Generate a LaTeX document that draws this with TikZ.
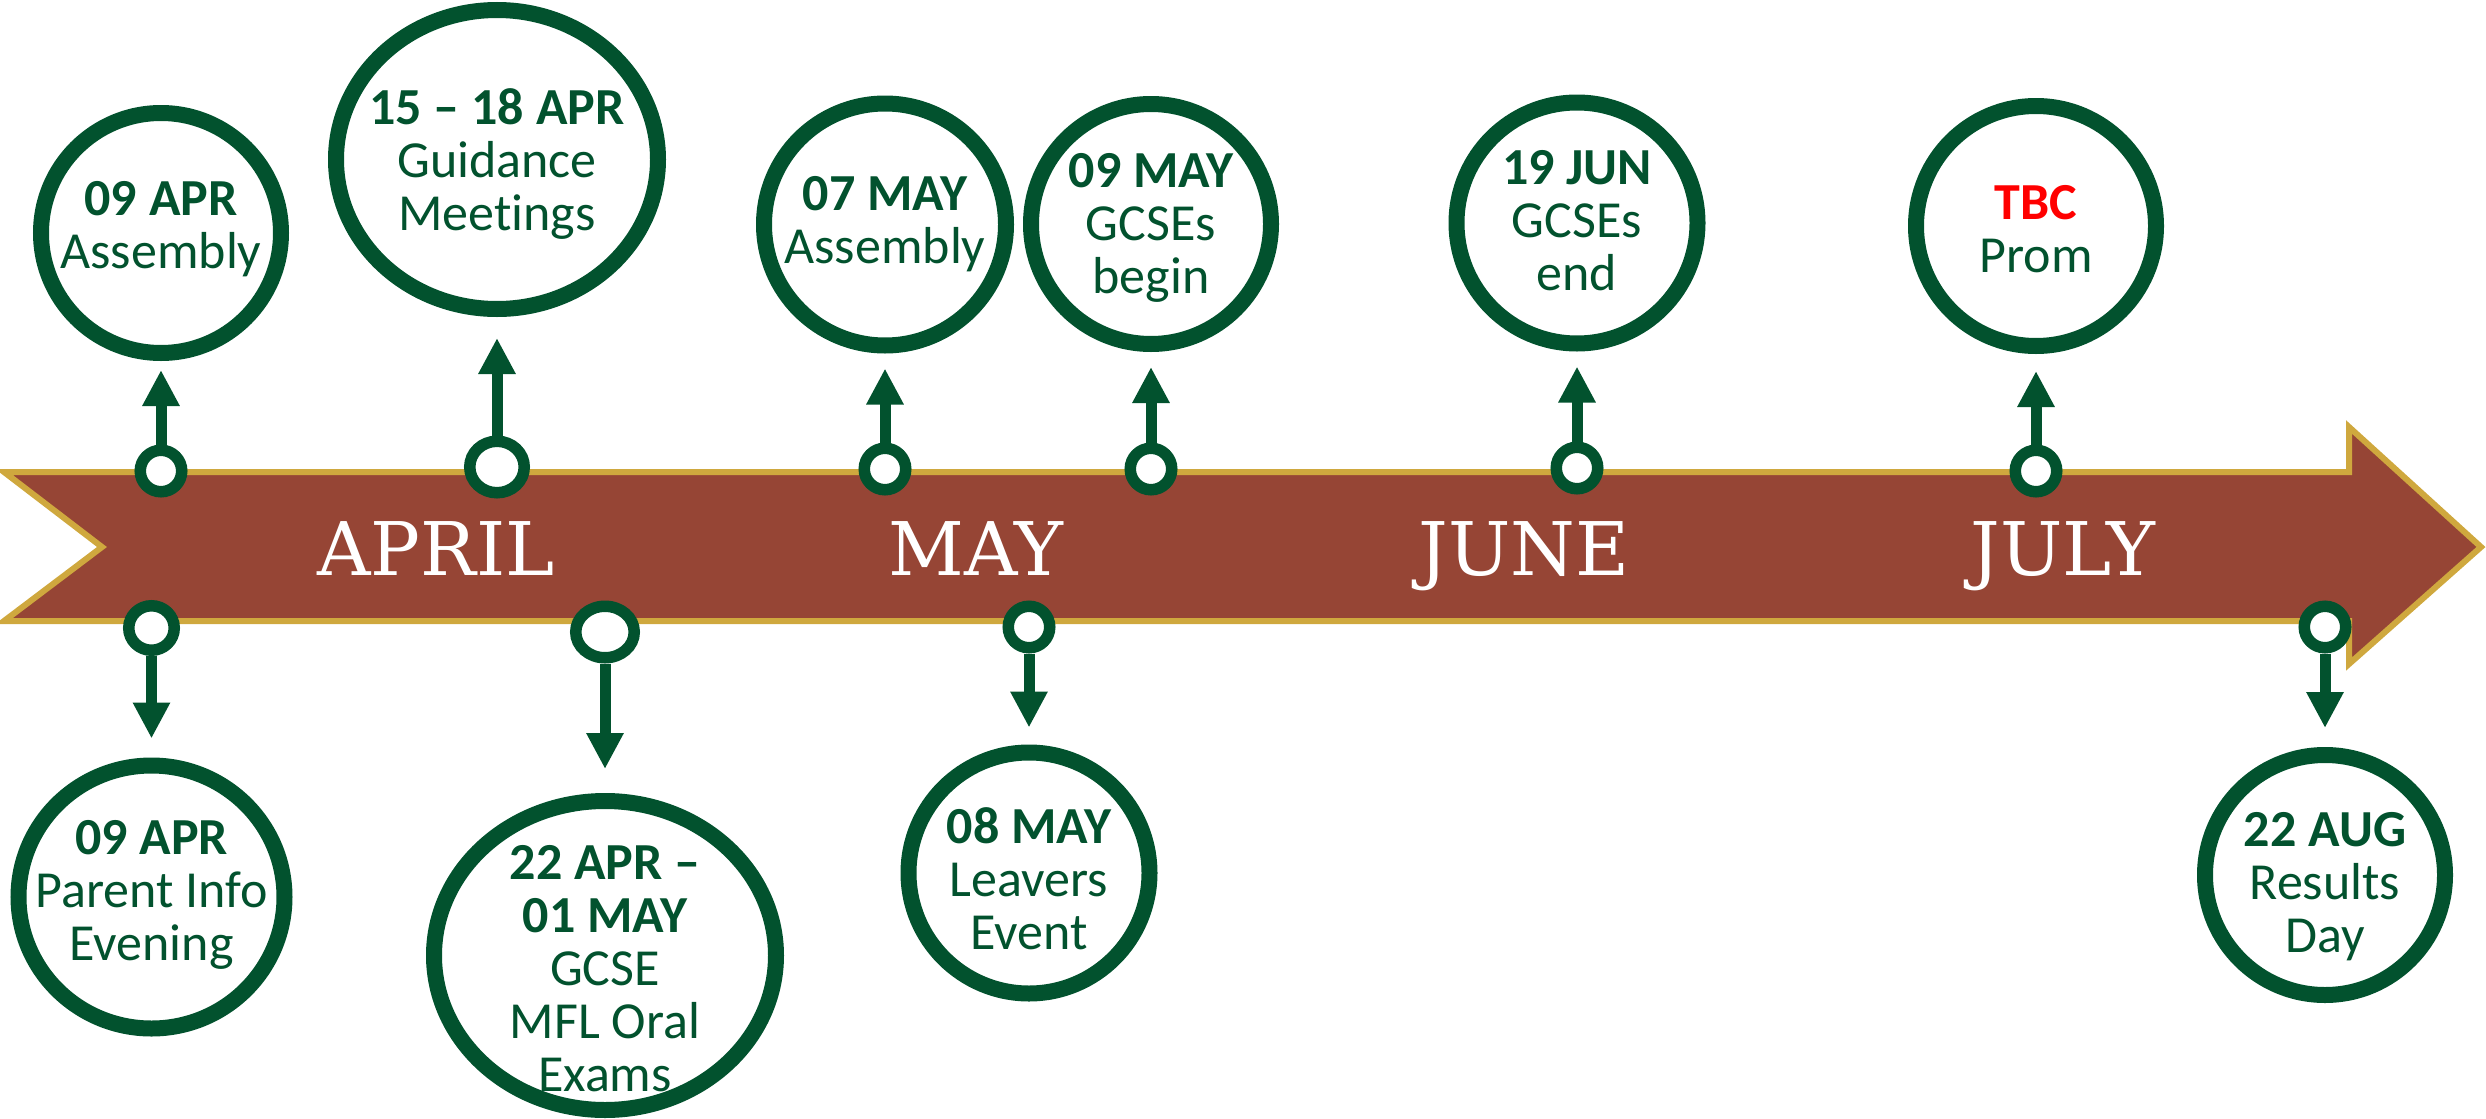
\documentclass[tikz,border=0pt]{standalone}
\usepackage{fontspec}
\usetikzlibrary{shapes.geometric,arrows.meta}
\newfontfamily\evfont[Ligatures=NoCommon]{Carlito}
\newfontfamily\monthfont{DejaVu Serif}
\definecolor{evgreen}{RGB}{2,82,46}
\definecolor{bandbrown}{RGB}{150,69,53}
\definecolor{bandgold}{RGB}{207,168,62}
\definecolor{tbcred}{RGB}{255,0,0}
\begin{document}
\begin{tikzpicture}[x=0.5pt,y=-0.5pt,
  big/.style={draw=evgreen, line width=8pt, ellipse, fill=white, inner sep=0pt},
  dot/.style={draw=evgreen, line width=5.75pt, ellipse, fill=white, inner sep=0pt,
              minimum width=20.75pt, minimum height=20.75pt},
  evtext/.style={text=evgreen, align=center, inner sep=0pt,
                 font=\evfont\fontsize{26pt}{26.5pt}\selectfont},
  month/.style={text=white, anchor=base, inner sep=0pt,
                font=\monthfont\fontsize{37pt}{37pt}\selectfont},
  conn/.style={draw=evgreen, line width=5.5pt, -{Triangle[width=17.5pt,length=18pt]}},
]
\useasboundingbox (0,0) rectangle (2486,1119);
\clip (0,0) rectangle (2486,1119);

% timeline band
\draw[fill=bandbrown, draw=bandgold, line width=3pt, line join=miter]
  (4,472) -- (2349,472) -- (2349,427) -- (2481,547) -- (2349,664)
  -- (2349,621) -- (4,621) -- (102,547) -- cycle;

% month labels
\node[month] (mapr) at (436,575) {APRIL};
\node[month] (mmay) at (976,575) {MAY};
\node[month] (mjun) at (1524,575) {JUNE};
\node[month] (mjul) at (2063,575) {JULY};

% big circles (top)
\node[big, minimum width=120pt, minimum height=120pt] (t1) at (161,233) {};
\node[big, minimum width=161pt, minimum height=149.5pt] (t2) at (497,159.5) {};
\node[big, minimum width=121pt, minimum height=121pt] (t3) at (885,224.5) {};
\node[big, minimum width=120pt, minimum height=120pt] (t4) at (1151,224) {};
\node[big, minimum width=120.5pt, minimum height=120.5pt] (t5) at (1577,223) {};
\node[big, minimum width=120pt, minimum height=120pt] (t6) at (2036,226) {};
% big circles (bottom)
\node[big, minimum width=133pt, minimum height=131.5pt] (b1) at (151.5,897) {};
\node[big, minimum width=171pt, minimum height=154.5pt] (b2) at (605,955.5) {};
\node[big, minimum width=120.5pt, minimum height=120.5pt] (b3) at (1029,873) {};
\node[big, minimum width=120pt, minimum height=120pt] (b4) at (2325,875) {};

% texts
\node[evtext] (t1l) at (161,229.5) {\bfseries 09 APR\\Assembly};
\node[evtext] (t2l) at (497,164) {\bfseries 15 \textendash{} 18 APR\\Guidance\\Meetings};
\node[evtext] (t3l) at (885,224) {\bfseries 07 MAY\\Assembly};
\node[evtext] (t4l) at (1151,228) {\bfseries 09 MAY\\GCSEs\\begin};
\node[evtext] (t5l) at (1577,221) {\bfseries 19 JUN\\GCSEs\\end};
\node[evtext] (t6l) at (2036,229) {\textcolor{tbcred}{\bfseries TBC}\\Prom};
\node[evtext] (b1l) at (151.5,894.5) {\bfseries 09 APR\\Parent Info\\Evening};
\node[evtext] (b2l) at (605,968.5) {\bfseries 22 APR \textendash\\\bfseries 01 MAY\\GCSE\\MFL Oral\\Exams};
\node[evtext] (b3l) at (1029,879) {\bfseries 08 MAY\\Leavers\\Event};
\node[evtext] (b4l) at (2325,887) {\bfseries 22 AUG\\Results\\Day};

% small markers on the band
\node[dot] (s1) at (161,471) {};
\node[dot, minimum width=27.25pt, minimum height=25.75pt] (s2) at (497,467) {};
\node[dot] (s3) at (885,469) {};
\node[dot] (s4) at (1151,469) {};
\node[dot] (s5) at (1577,468) {};
\node[dot] (s6) at (2036,471) {};
\node[dot, minimum width=22.75pt, minimum height=22.25pt] (s7) at (151.5,628) {};
\node[dot, minimum width=29.25pt, minimum height=25.75pt] (s8) at (605,632) {};
\node[dot] (s9) at (1029,627) {};
\node[dot] (s10) at (2325,627) {};

% connectors
\draw[conn, shorten >=4.5pt] (s1) -- (t1);
\draw[conn, shorten >=10.5pt] (s2) -- (t2);
\draw[conn, shorten >=7.5pt] (s3) -- (t3);
\draw[conn, shorten >=7.5pt] (s4) -- (t4);
\draw[conn, shorten >=7.5pt] (s5) -- (t5);
\draw[conn, shorten >=8.5pt] (s6) -- (t6);
\draw[conn, shorten >=9.5pt] (s7) -- (b1);
\draw[conn, shorten >=12pt] (s8) -- (b2);
\draw[conn, shorten >=8.5pt] (s9) -- (b3);
\draw[conn, shorten >=9.5pt] (s10) -- (b4);
\end{tikzpicture}
\end{document}
